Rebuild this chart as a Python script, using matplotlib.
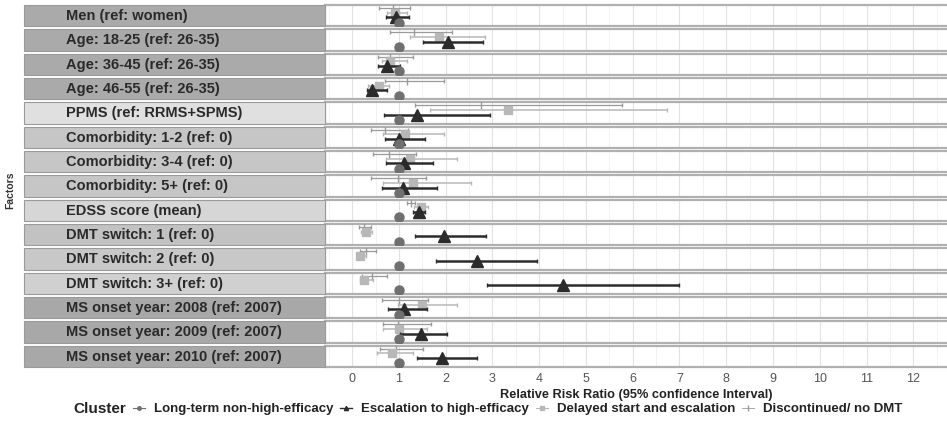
import matplotlib.pyplot as plt
from matplotlib.lines import Line2D
from matplotlib.patches import Rectangle
from matplotlib.ticker import MultipleLocator

plt.rcParams['font.family'] = ['Liberation Sans', 'DejaVu Sans']

# Faktory (shora dolů)
faktory = [
    "Men (ref: women)",
    "Age: 18-25 (ref: 26-35)",
    "Age: 36-45 (ref: 26-35)",
    "Age: 46-55 (ref: 26-35)",
    "PPMS (ref: RRMS+SPMS)",
    "Comorbidity: 1-2 (ref: 0)",
    "Comorbidity: 3-4 (ref: 0)",
    "Comorbidity: 5+ (ref: 0)",
    "EDSS score (mean)",
    "DMT switch: 1 (ref: 0)",
    "DMT switch: 2 (ref: 0)",
    "DMT switch: 3+ (ref: 0)",
    "MS onset year: 2008 (ref: 2007)",
    "MS onset year: 2009 (ref: 2007)",
    "MS onset year: 2010 (ref: 2007)",
]
barvy_stitku = ["#aaaaaa", "#aaaaaa", "#aaaaaa", "#aaaaaa", "#e0e0e0",
                "#c6c6c6", "#c6c6c6", "#c6c6c6", "#d6d6d6",
                "#c2c2c2", "#c8c8c8", "#d0d0d0",
                "#a8a8a8", "#a8a8a8", "#a8a8a8"]

# Discontinued / no DMT
disc_rr = [0.88, 1.33, 0.80, 1.18, 2.76, 0.71, 0.78, 0.98, 1.26, 0.25, 0.30, 0.42, 1.00, 0.98, 0.93]
disc_lo = [0.58, 0.80, 0.56, 0.70, 1.35, 0.41, 0.44, 0.41, 1.17, 0.15, 0.17, 0.21, 0.64, 0.66, 0.60]
disc_hi = [1.24, 2.13, 1.30, 1.97, 5.78, 1.20, 1.37, 1.58, 1.35, 0.40, 0.51, 0.75, 1.63, 1.69, 1.52]

# Delayed start and escalation
del_rr = [0.92, 1.86, 0.80, 0.58, 3.34, 1.13, 1.24, 1.30, 1.47, 0.30, 0.17, 0.26, 1.49, 1.00, 0.85]
del_lo = [0.75, 1.24, 0.64, 0.35, 1.67, 0.67, 0.73, 0.66, 1.33, 0.20, 0.10, 0.17, 0.99, 0.66, 0.54]
del_hi = [1.18, 2.85, 1.18, 0.78, 6.74, 1.97, 2.25, 2.54, 1.62, 0.42, 0.30, 0.45, 2.25, 1.60, 1.31]

# Escalation to high-efficacy
esc_rr = [0.94, 2.05, 0.75, 0.43, 1.39, 1.00, 1.11, 1.09, 1.42, 1.97, 2.67, 4.51, 1.11, 1.47, 1.93]
esc_lo = [0.72, 1.52, 0.56, 0.32, 0.68, 0.70, 0.73, 0.64, 1.30, 1.35, 1.80, 2.88, 0.77, 1.03, 1.39]
esc_hi = [1.22, 2.80, 1.03, 0.75, 2.95, 1.56, 1.73, 1.82, 1.56, 2.87, 3.96, 7.00, 1.60, 2.03, 2.68]

# Long-term non-high-efficacy = referenční skupina (RRR = 1)
ref_rr = [1.0] * len(faktory)


def kresli_radek(ax, i):
    # tenká čára s čárkou - Discontinued
    ax.errorbar(disc_rr[i], 0.86, xerr=[[disc_rr[i] - disc_lo[i]], [disc_hi[i] - disc_rr[i]]],
                fmt='|', color='#9a9a9a', ms=6, lw=0.9, capsize=1.2, zorder=3)
    # čtverec - Delayed start
    ax.errorbar(del_rr[i], 0.64, xerr=[[del_rr[i] - del_lo[i]], [del_hi[i] - del_rr[i]]],
                fmt='s', color='#b8b8b8', ms=6, lw=1.1, capsize=1.2, zorder=4)
    # trojúhelník - Escalation
    ax.errorbar(esc_rr[i], 0.42, xerr=[[esc_rr[i] - esc_lo[i]], [esc_hi[i] - esc_rr[i]]],
                fmt='^', color='#2b2b2b', ms=8, lw=1.8, capsize=1.5, zorder=5)
    # kolečko - reference
    ax.plot(ref_rr[i], 0.17, 'o', color='#6f6f6f', ms=6.5, zorder=6)


def zobraz_graf():
    W, H = 947, 430
    fig = plt.figure(figsize=(W / 100, H / 100), dpi=100)

    levo, pravo = 325, 947
    horni, krok, mezera = 5, 24.33, 3
    xlim = (-0.58, 12.72)

    osy = []
    for i, nazev in enumerate(faktory):
        top = horni + i * krok
        vyska = krok - mezera
        ax = fig.add_axes([levo / W, 1 - (top + vyska) / H, (pravo - levo) / W, vyska / H])
        ax.set_xlim(*xlim)
        ax.set_ylim(0, 1)
        ax.xaxis.set_major_locator(MultipleLocator(1))
        ax.xaxis.set_minor_locator(MultipleLocator(0.5))
        ax.grid(which='major', axis='x', color='#e2e2e2', lw=0.8)
        ax.grid(which='minor', axis='x', color='#efefef', lw=0.6)
        ax.set_axisbelow(True)
        ax.set_yticks([])
        ax.tick_params(axis='x', which='both', length=0, labelbottom=False)
        for s in ['top', 'bottom']:
            ax.spines[s].set_color('#b0b0b0')
            ax.spines[s].set_linewidth(1.6)
        ax.spines['left'].set_color('#9a9a9a')
        ax.spines['right'].set_visible(False)
        kresli_radek(ax, i)

        # šedý štítek s názvem faktoru
        fig.patches.append(Rectangle((24 / W, 1 - (top + vyska) / H), (levo - 24) / W, vyska / H,
                                     transform=fig.transFigure, facecolor=barvy_stitku[i],
                                     edgecolor='#9a9a9a', lw=0.8))
        fig.text(66 / W, 1 - (top + vyska / 2 + 0.5) / H, nazev, fontsize=10.5, fontweight='bold',
                 color='#2a2a2a', va='center', ha='left')
        osy.append(ax)

    # popisky osy x pod posledním řádkem
    posledni = osy[-1]
    posledni.tick_params(axis='x', which='major', labelbottom=True, labelsize=9,
                         labelcolor='#555555', pad=4)
    posledni.set_xlabel("Relative Risk Ratio (95% confidence Interval)", fontsize=9.2,
                        fontweight='bold', color='#222222', labelpad=3)

    fig.text(10 / W, 1 - 190 / H, "Factors", rotation=90, fontsize=7.5, fontweight='bold',
             color='#333333', va='center', ha='center')

    # legenda
    fig.text(73 / W, 1 - 409 / H, "Cluster", fontsize=11, fontweight='bold',
             color='#222222', va='center', ha='left')
    handles = [
        Line2D([], [], marker='o', color='#6f6f6f', ms=2.5, lw=0.8),
        Line2D([], [], marker='^', color='#2b2b2b', ms=3, lw=1.0),
        Line2D([], [], marker='s', color='#b8b8b8', ms=2.5, lw=0.8),
        Line2D([], [], marker='|', color='#9a9a9a', ms=5, lw=0.6),
    ]
    popisky = ["Long-term non-high-efficacy", "Escalation to high-efficacy",
               "Delayed start and escalation", "Discontinued/ no DMT"]
    leg = fig.legend(handles, popisky, loc='center left', bbox_to_anchor=(133 / W, 1 - 409 / H),
                     ncol=4, frameon=False, fontsize=9.5, handlelength=0.9, handletextpad=0.7,
                     columnspacing=0.5, borderaxespad=0, borderpad=0)
    for t in leg.get_texts():
        t.set_fontweight('bold')
        t.set_color('#222222')

    fig.savefig("out.png", dpi=100)


if __name__ == "__main__":
    zobraz_graf()
